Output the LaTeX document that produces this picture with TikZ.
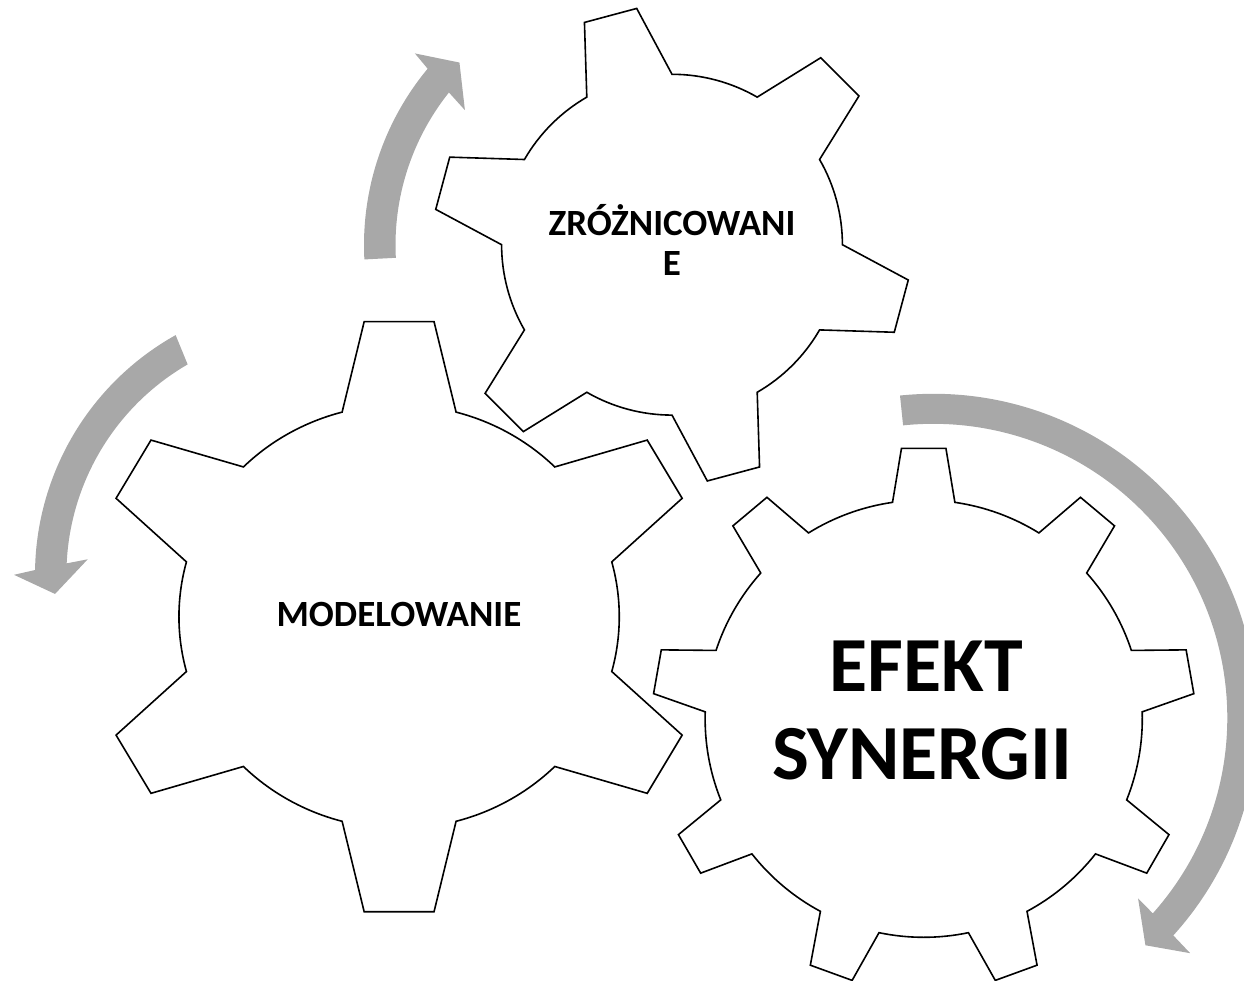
\documentclass[tikz,border=0pt]{standalone}
\usepackage{fontspec}
\setmainfont{Carlito}
\definecolor{arrowgray}{RGB}{168,168,168}
\tikzset{
  gearline/.style={draw=black, line width=1.6pt, fill=white, line join=miter},
  arrowband/.style={fill=arrowgray, draw=none},
  lbl/.style={font=\fontsize{37}{40}\selectfont\bfseries, inner sep=0pt, anchor=base},
  biglbl/.style={font=\fontsize{78}{88}\selectfont\bfseries, inner sep=0pt, anchor=base}
}
% #1 teeth, #2 rotation, #3 tip radius, #4 tip half angle, #5 base radius, #6 base half angle
\newcommand\gearpath[6]{%
  ({#2-#4}:#3)
  \foreach \k in {1,...,\numexpr#1-1\relax}{
    -- ({#2+(\k-1)*360/#1+#4}:#3) -- ({#2+(\k-1)*360/#1+#6}:#5)
    arc[start angle={#2+(\k-1)*360/#1+#6}, end angle={#2+\k*360/#1-#6}, radius=#5]
    -- ({#2+\k*360/#1-#4}:#3)
  }
  -- ({#2-360/#1+#4}:#3) -- ({#2-360/#1+#6}:#5)
  arc[start angle={#2-360/#1+#6}, end angle={#2-#6}, radius=#5]
  -- cycle
}
\begin{document}
\begin{tikzpicture}[x=1pt,y=1pt]
\useasboundingbox (0,-980) rectangle (1244,0);
\clip (0,-980) rectangle (1244,0);

% arrows
\begin{scope}[shift={(640,-245)}]
  \fill[arrowband] (183:276) arc[start angle=183, end angle=140.3, radius=276]
    -- (139.6:295.6) -- (134.7:256.7) -- (142.4:221) -- (141.4:244.5)
    arc[start angle=141.4, end angle=183, radius=244.5] -- cycle;
\end{scope}
\begin{scope}[shift={(309.6,-574.8)}]
  \fill[arrowband] (119.2:274.6) arc[start angle=119.2, end angle=179, radius=274.6]
    -- (180:295.6) -- (184.3:255.3) -- (176:222.4) -- (177.3:243.2)
    arc[start angle=177.3, end angle=120.1, radius=243.2] -- cycle;
\end{scope}
\begin{scope}[shift={(933.3,-717.8)}]
  \fill[arrowband] (95.9:324) arc[start angle=95.9, end angle=-42.2, radius=324]
    -- (-42.5:348.4) -- (-47:311) -- (-41.4:273) -- (-41.7:294)
    arc[start angle=-41.7, end angle=95.9, radius=294] -- cycle;
\end{scope}

% gears
\begin{scope}[shift={(672,-244.7)}]
  \draw[gearline] \gearpath{6}{105}{238.9}{6.5}{170.4}{15};
\end{scope}
\begin{scope}[shift={(399.1,-616.7)}, xscale=1.292, yscale=1.243]
  \draw[gearline] \gearpath{6}{90}{238.9}{6.5}{170.4}{15};
\end{scope}
\begin{scope}[shift={(923.7,-718.7)}]
  \draw[gearline] \gearpath{9}{90}{271.3}{4.7}{218.6}{8.2};
\end{scope}

% labels
\node[lbl] (zr1) at (672,-235) {ZRÓŻNICOWANI};
\node[lbl] (zr2) at (672,-275) {E};
\node[lbl] (mod) at (399,-626.7) {MODELOWANIE};
\node[biglbl] (ef1) at (926,-691.7) {EFEKT};
\node[biglbl] (ef2) at (922,-779.3) {SYNERGII};
\end{tikzpicture}
\end{document}
